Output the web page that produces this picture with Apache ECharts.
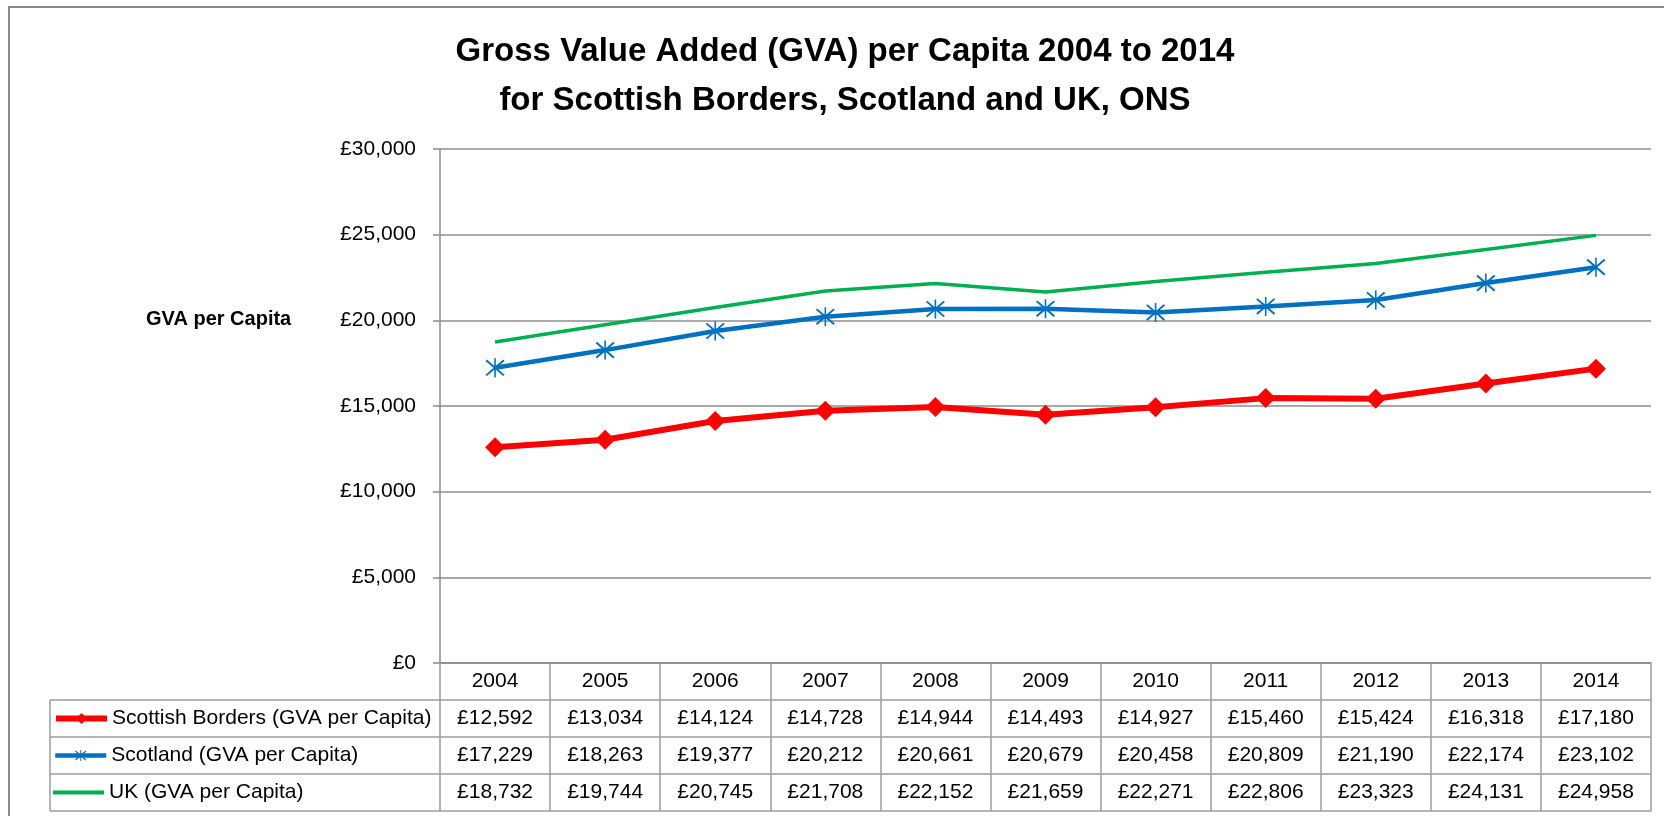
<!DOCTYPE html>
<html>
<head>
<meta charset="utf-8">
<title>GVA per Capita 2004 to 2014</title>
<script src="https://cdn.jsdelivr.net/npm/echarts@6/dist/echarts.min.js"></script>
<style>
  html, body { margin: 0; padding: 0; background: #fff; }
  #chart { width: 1664px; height: 816px; }
</style>
</head>
<body>
<div id="chart"></div>
<script>
const years = ['2004', '2005', '2006', '2007', '2008', '2009', '2010', '2011', '2012', '2013', '2014'];
const bordersGva = [12592, 13034, 14124, 14728, 14944, 14493, 14927, 15460, 15424, 16318, 17180];
const scotlandGva = [17229, 18263, 19377, 20212, 20661, 20679, 20458, 20809, 21190, 22174, 23102];
const ukGva = [18732, 19744, 20745, 21708, 22152, 21659, 22271, 22806, 23323, 24131, 24958];
const seriesNames = [
  'Scottish Borders (GVA per Capita)',
  'Scotland (GVA per Capita)',
  'UK (GVA per Capita)'
];

// layout
const FONT = '"Liberation Sans", Arial, sans-serif';
const GRID_L = 440, GRID_R = 1651, GRID_T = 149, GRID_B = 663;
const ROW_H = 37;
const TABLE_L = 50;
const LINE_GREY = '#8c8c8c';
const TABLE_GREY = '#9c9c9c';
const RED = '#ff0000', BLUE = '#0070c0', GREEN = '#00b050';

function money(v) {
  return '£' + String(v).replace(/\B(?=(\d{3})+(?!\d))/g, ',');
}

// asterisk marker (X plus vertical bar), like Excel's star marker
const starPath = 'path://' +
  'M-9.66,-7.25 L8.34,8.75 L9.66,7.25 L-8.34,-8.75 Z ' +
  'M-9.66,7.25 L-8.34,8.75 L9.66,-7.25 L8.34,-8.75 Z ' +
  'M-0.8,-10 L-0.8,10 L0.8,10 L0.8,-10 Z';

const chart = echarts.init(document.getElementById('chart'));

// table horizontal rules + left border
const tableLines = [];
for (let r = 1; r <= 4; r++) {
  const y = GRID_B + r * ROW_H;
  tableLines.push({
    type: 'line',
    shape: { x1: TABLE_L, y1: y, x2: GRID_R, y2: y },
    style: { stroke: TABLE_GREY, lineWidth: 1.5 },
    silent: true
  });
}
tableLines.push({
  type: 'line',
  shape: { x1: TABLE_L, y1: GRID_B + ROW_H, x2: TABLE_L, y2: GRID_B + 4 * ROW_H },
  style: { stroke: TABLE_GREY, lineWidth: 1.5 },
  silent: true
});

// one legend per table row
const legendLineWidths = [6, 4.5, 4];
const legends = seriesNames.map(function (name, i) {
  const isUk = i === 2;
  return {
    data: isUk ? [{ name: name, icon: 'rect' }] : [name],
    orient: 'horizontal',
    left: 53,
    top: GRID_B + ROW_H * (i + 1) + ROW_H / 2 - 11,
    padding: 0,
    itemWidth: 51,
    itemHeight: isUk ? 4 : 14,
    selectedMode: false,
    lineStyle: { width: legendLineWidths[i] },
    textStyle: { fontFamily: FONT, fontSize: 21, color: '#000', lineHeight: 22 }
  };
});

const option = {
  animation: false,
  backgroundColor: '#fff',
  grid: {
    left: GRID_L,
    right: 1664 - GRID_R,
    top: GRID_T,
    bottom: 816 - GRID_B,
    containLabel: false,
    outerBoundsMode: 'none'
  },
  legend: legends,
  graphic: [
    {
      type: 'rect',
      shape: { x: 9, y: 7, width: 1700, height: 900 },
      style: { fill: 'none', stroke: '#8a8a8a', lineWidth: 2 },
      silent: true,
      z: -1
    },
    {
      type: 'text',
      x: 845, y: 52,
      style: {
        text: 'Gross Value Added (GVA) per Capita 2004 to 2014',
        font: 'bold 33px ' + FONT,
        fill: '#000',
        align: 'center',
        verticalAlign: 'middle'
      }
    },
    {
      type: 'text',
      x: 845, y: 101,
      style: {
        text: 'for Scottish Borders, Scotland and UK, ONS',
        font: 'bold 33px ' + FONT,
        fill: '#000',
        align: 'center',
        verticalAlign: 'middle'
      }
    },
    {
      type: 'text',
      x: 146, y: 319,
      style: {
        text: 'GVA per Capita',
        font: 'bold 20px ' + FONT,
        fill: '#000',
        align: 'left',
        verticalAlign: 'middle'
      }
    }
  ].concat(tableLines),
  xAxis: {
    type: 'category',
    data: years,
    boundaryGap: true,
    axisLine: { show: true, lineStyle: { color: LINE_GREY, width: 1.5 } },
    axisTick: {
      show: true,
      alignWithLabel: false,
      interval: 0,
      length: ROW_H * 4,
      lineStyle: { color: TABLE_GREY, width: 1.5 }
    },
    axisLabel: {
      interval: 0,
      margin: 0,
      formatter: function (value, idx) {
        return [
          '{c|' + value + '}',
          '{c|' + money(bordersGva[idx]) + '}',
          '{c|' + money(scotlandGva[idx]) + '}',
          '{c|' + money(ukGva[idx]) + '}'
        ].join('\n');
      },
      rich: {
        c: { fontFamily: FONT, fontSize: 21, color: '#000', lineHeight: ROW_H, align: 'center' }
      }
    },
    splitLine: { show: false }
  },
  yAxis: {
    type: 'value',
    min: 0,
    max: 30000,
    interval: 5000,
    axisLine: { show: true, lineStyle: { color: LINE_GREY, width: 1.5 } },
    axisTick: { show: true, length: 7, lineStyle: { color: LINE_GREY, width: 1.5 } },
    axisLabel: {
      margin: 24,
      fontFamily: FONT,
      fontSize: 21,
      color: '#000',
      formatter: money
    },
    splitLine: { show: true, lineStyle: { color: LINE_GREY, width: 1.5 } }
  },
  series: [
    {
      name: seriesNames[0],
      type: 'line',
      data: bordersGva,
      symbol: 'diamond',
      symbolSize: 20,
      lineStyle: { color: RED, width: 6 },
      itemStyle: { color: RED },
      z: 3
    },
    {
      name: seriesNames[1],
      type: 'line',
      data: scotlandGva,
      symbol: starPath,
      symbolSize: 19,
      lineStyle: { color: BLUE, width: 4.5 },
      itemStyle: { color: BLUE, borderWidth: 0 },
      z: 3
    },
    {
      name: seriesNames[2],
      type: 'line',
      data: ukGva,
      symbol: 'none',
      lineStyle: { color: GREEN, width: 3.5 },
      itemStyle: { color: GREEN },
      z: 3
    }
  ]
};

chart.setOption(option);
</script>
</body>
</html>
